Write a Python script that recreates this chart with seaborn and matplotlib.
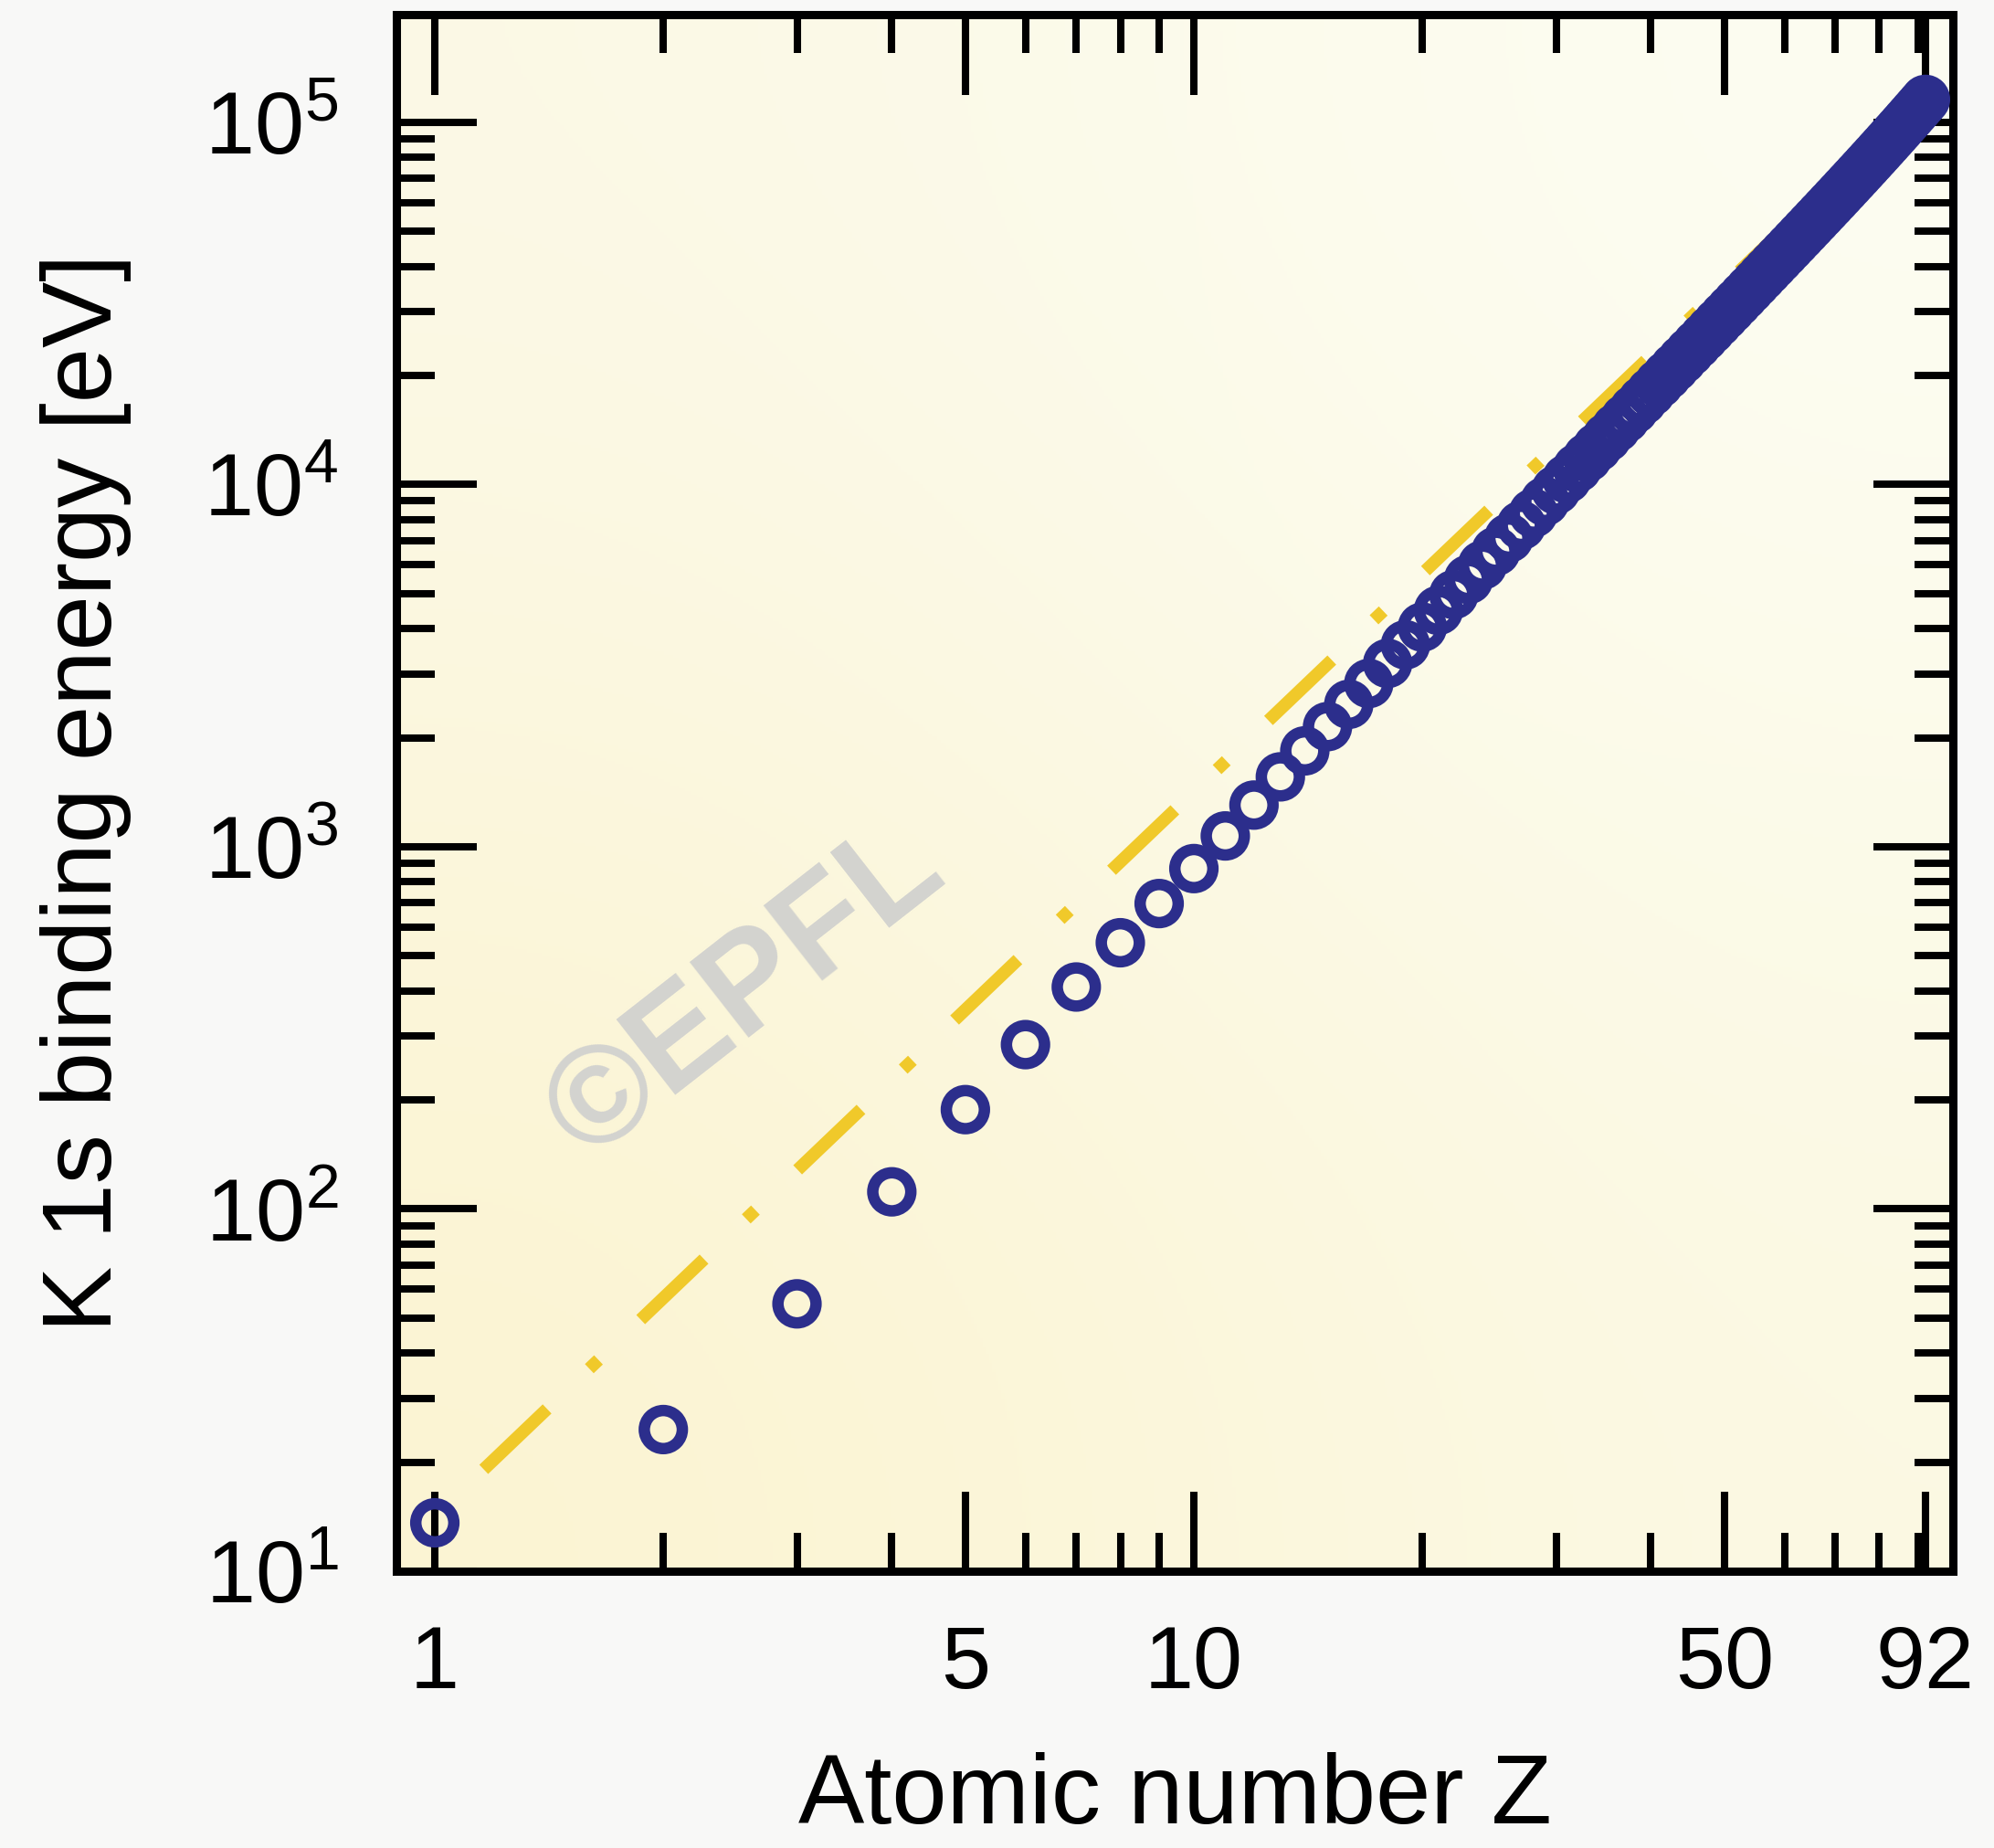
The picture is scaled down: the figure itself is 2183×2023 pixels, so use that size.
import numpy as np
import matplotlib
matplotlib.use("Agg")
import matplotlib.pyplot as plt
import matplotlib.ticker as mticker
from matplotlib.colors import to_rgb
import seaborn as sns

# K-shell (1s) binding energies (eV)
atomic_number = [1, 2, 3, 4, 5, 6, 7, 8, 9, 10,
                 11, 12, 13, 14, 15, 16, 17, 18, 19, 20,
                 21, 22, 23, 24, 25, 26, 27, 28, 29, 30,
                 31, 32, 33, 34, 35, 36, 37, 38, 39, 40,
                 41, 42, 43, 44, 45, 46, 47, 48, 49, 50,
                 51, 52, 53, 54, 55, 56, 57, 58, 59, 60,
                 61, 62, 63, 64, 65, 66, 67, 68, 69, 70,
                 71, 72, 73, 74, 75, 76, 77, 78, 79, 80,
                 81, 82, 83, 84, 85, 86, 87, 88, 89, 90,
                 91, 92]
k1s_energy = [13.6, 24.6, 54.7, 111.5, 188, 284.2, 409.9, 543.1, 696.7, 870.2,
              1070.8, 1303, 1559, 1839, 2145.5, 2472, 2822, 3205.9, 3608.4, 4038.5,
              4492, 4966, 5465, 5989, 6539, 7112, 7709, 8333, 8979, 9659,
              10367, 11103, 11867, 12658, 13474, 14326, 15200, 16105, 17038, 17998,
              18986, 20000, 21044, 22117, 23220, 24350, 25514, 26711, 27940, 29200,
              30491, 31814, 33169, 34561, 35985, 37441, 38925, 40443, 41991, 43569,
              45184, 46834, 48519, 50239, 51996, 53789, 55618, 57486, 59390, 61332,
              63314, 65351, 67416, 69525, 71676, 73871, 76111, 78395, 80725, 83102,
              85530, 88005, 90526, 93105, 95730, 98404, 101137, 103922, 106755, 109651,
              112601, 115606]

# hydrogen-like Z^2 guide line (end points)
guide_z = [1.16, 92]
guide_e = [19.1, 120000]

x_major = [1, 5, 10, 50, 92]
x_major_labels = ["1", "5", "10", "50", "92"]
x_minor = [2, 3, 4, 6, 7, 8, 9, 20, 30, 40, 60, 70, 80, 90]
y_major = [1e1, 1e2, 1e3, 1e4, 1e5]
y_major_labels = [r"$\mathregular{10^{1}}$", r"$\mathregular{10^{2}}$", r"$\mathregular{10^{3}}$",
                  r"$\mathregular{10^{4}}$", r"$\mathregular{10^{5}}$"]

navy = "#2c2e8c"
yellow = "#f0c92a"

sns.set_style("ticks")
plt.rcParams["font.family"] = ["Liberation Sans", "DejaVu Sans"]
plt.rcParams["text.color"] = "black"
plt.rcParams["axes.labelcolor"] = "black"
plt.rcParams["xtick.labelcolor"] = "black"
plt.rcParams["ytick.labelcolor"] = "black"

fig = plt.figure(figsize=(21.83, 20.23), dpi=100, facecolor="#f8f8f7")
rect = [0.1988, 0.1498, 0.7806, 0.8422]

# soft cream gradient behind the plot
bg_ax = fig.add_axes(rect, zorder=-1)
bg = np.array([[to_rgb("#fbf9e6"), to_rgb("#fdfdf2")],
               [to_rgb("#fcf4d2"), to_rgb("#fbf9e3")]])
bg_ax.imshow(bg, extent=[0, 1, 0, 1], aspect="auto", interpolation="bicubic")
bg_ax.axis("off")

ax = fig.add_axes(rect)
ax.patch.set_visible(False)
ax.set_xscale("log")
ax.set_yscale("log")

sns.lineplot(x=guide_z, y=guide_e, ax=ax, color=yellow, linewidth=10, zorder=2)
guide = ax.lines[-1]
guide.set_linestyle((0, (6.9, 4.6, 1.0, 4.6)))
guide.set_dash_capstyle("butt")

sns.scatterplot(x=atomic_number, y=k1s_energy, ax=ax, marker="o", s=900,
                facecolor="none", edgecolor=navy, color=navy, linewidth=9,
                zorder=3, clip_on=False)

ax.text(0.225, 0.372, "©EPFL", transform=ax.transAxes, fontsize=110,
        fontweight="bold", color="#d3d3cf", rotation=38, ha="center",
        va="center", zorder=1.5)

ax.set_xlim(0.89, 100)
ax.set_ylim(10, 1.98e5)

ax.xaxis.set_major_locator(mticker.FixedLocator(x_major))
ax.xaxis.set_major_formatter(mticker.FixedFormatter(x_major_labels))
ax.xaxis.set_minor_locator(mticker.FixedLocator(x_minor))
ax.xaxis.set_minor_formatter(mticker.NullFormatter())
ax.yaxis.set_major_locator(mticker.FixedLocator(y_major))
ax.yaxis.set_major_formatter(mticker.FixedFormatter(y_major_labels))
ax.yaxis.set_minor_locator(mticker.LogLocator(base=10, subs=np.arange(2, 10), numticks=20))
ax.yaxis.set_minor_formatter(mticker.NullFormatter())

ax.tick_params(which="both", direction="in", top=True, right=True,
               width=5.8, color="black", labelcolor="black", labelsize=70)
ax.tick_params(which="major", length=63)
ax.tick_params(which="minor", length=30)
ax.tick_params(axis="x", which="major", pad=42)
ax.tick_params(axis="y", which="major", pad=46)

for s in ax.spines.values():
    s.set_linewidth(6.5)
    s.set_color("black")

ax.set_xlabel("Atomic number Z", fontsize=78, color="black")
ax.set_ylabel("K 1s binding energy [eV]", fontsize=78, color="black")
ax.xaxis.set_label_coords(0.5, -0.116)
ax.yaxis.set_label_coords(-0.17, 0.5)

fig.savefig("out.png", dpi=100, facecolor=fig.get_facecolor())
